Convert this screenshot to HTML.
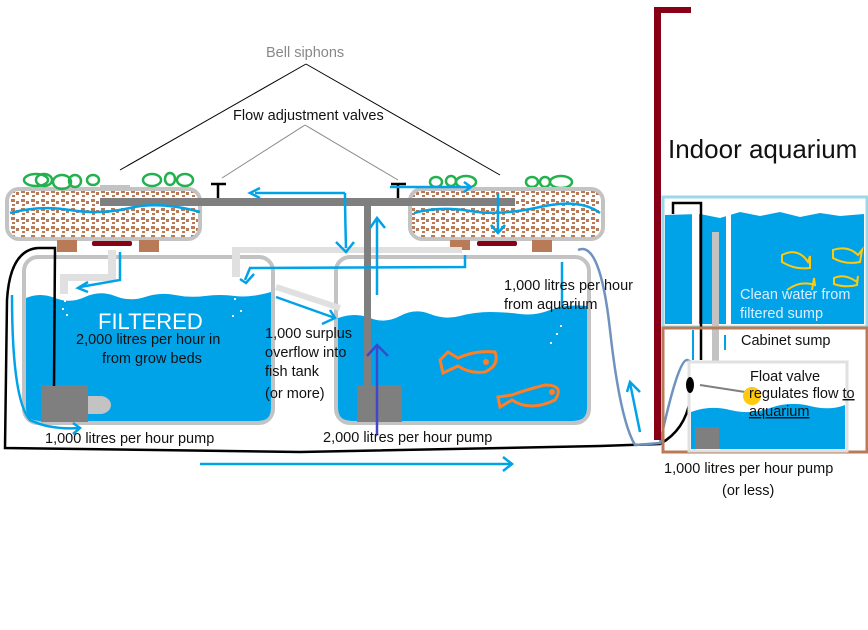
<!DOCTYPE html>
<html><head><meta charset="utf-8"><style>
html,body{margin:0;padding:0;background:#fff;width:868px;height:630px;overflow:hidden}
svg{display:block}
text{font-family:"Liberation Sans",sans-serif;font-size:14.5px;fill:#111}
</style></head><body>
<svg width="868" height="630" viewBox="0 0 868 630" xmlns="http://www.w3.org/2000/svg">
<defs>
<pattern id="peb" width="10" height="9" patternUnits="userSpaceOnUse">
<rect width="10" height="9" fill="#fff"/>
<rect x="1" y="1" width="4" height="3" fill="#b97a57"/>
<rect x="6" y="3" width="3" height="3" fill="#b97a57"/>
<rect x="2" y="6" width="3" height="2" fill="#b97a57"/>
</pattern>
</defs>
<text x="266" y="57" style="fill:#888">Bell siphons</text>
<text x="233" y="120">Flow adjustment valves</text>
<line x1="120" y1="170" x2="306" y2="64" stroke="#000"/>
<line x1="306" y1="64" x2="500" y2="175" stroke="#000"/>
<line x1="222" y1="178" x2="305" y2="125" stroke="#888"/>
<line x1="305" y1="125" x2="398" y2="180" stroke="#888"/>
<rect x="7" y="189" width="193" height="50" rx="12" fill="url(#peb)" stroke="#c3c3c3" stroke-width="4"/>
<g fill="none" stroke="#22b14c" stroke-width="2.5">
<ellipse cx="36" cy="180" rx="12" ry="6"/><ellipse cx="44" cy="180" rx="8" ry="6"/><ellipse cx="62" cy="182" rx="9" ry="7"/><ellipse cx="75" cy="181" rx="6" ry="6"/><ellipse cx="93" cy="180" rx="6" ry="5"/><ellipse cx="152" cy="180" rx="9" ry="6"/><ellipse cx="170" cy="179" rx="5" ry="6"/><ellipse cx="185" cy="180" rx="8" ry="6"/>
<ellipse cx="436" cy="182" rx="6" ry="5"/><ellipse cx="451" cy="181" rx="5" ry="5"/><ellipse cx="466" cy="182" rx="10" ry="6"/><ellipse cx="532" cy="182" rx="6" ry="5"/><ellipse cx="545" cy="182" rx="5" ry="5"/><ellipse cx="561" cy="182" rx="11" ry="6"/>
</g>
<rect x="100" y="185" width="30" height="4" fill="#c3c3c3"/>
<rect x="57" y="240" width="20" height="12" fill="#b97a57"/><rect x="139" y="240" width="20" height="12" fill="#b97a57"/>
<rect x="92" y="241" width="40" height="5" rx="2" fill="#880015"/>
<rect x="410" y="189" width="193" height="50" rx="12" fill="url(#peb)" stroke="#c3c3c3" stroke-width="4"/>
<rect x="450" y="240" width="20" height="10" fill="#b97a57"/><rect x="532" y="240" width="20" height="12" fill="#b97a57"/>
<rect x="477" y="241" width="40" height="5" rx="2" fill="#880015"/>
<rect x="24" y="257" width="249" height="166" rx="14" fill="#fff" stroke="#c3c3c3" stroke-width="4"/>
<path d="M26 298 Q40 292 55 298 T85 297 T115 296 T145 297 T175 295 T205 296 T235 296 T271 292 L271 408 Q271 421 258 421 L40 421 Q26 421 26 408Z" fill="#00a2e8"/>
<rect x="41" y="385" width="47" height="37" fill="#7f7f7f"/>
<ellipse cx="100" cy="405" rx="11" ry="9" fill="#c3c3c3"/>
<rect x="88" y="396" width="10" height="18" fill="#c3c3c3"/>
<rect x="336" y="257" width="253" height="166" rx="14" fill="#fff" stroke="#c3c3c3" stroke-width="4"/>
<path d="M338 318 Q355 312 370 318 T400 316 T430 314 T460 316 T490 312 T520 314 T550 310 T587 306 L587 408 Q587 421 573 421 L352 421 Q338 421 338 408Z" fill="#00a2e8"/>
<rect x="357" y="385" width="45" height="37" fill="#7f7f7f"/>
<g fill="none" stroke="#ff7f27" stroke-width="3">
<path d="M440 360 L448 352 L458 358 Q475 350 495 352 Q500 365 485 372 Q470 374 458 366 L443 373Z"/><circle cx="486" cy="362" r="1.5" fill="#ff7f27"/>
<path d="M498 397 L500 407 L512 400 Q530 412 555 400 Q565 385 545 385 Q525 390 512 395Z"/><circle cx="552" cy="392" r="1.5" fill="#ff7f27"/>
</g>
<rect x="232" y="247" width="230" height="6" fill="#e0e0e0"/>
<rect x="232" y="247" width="8" height="30" fill="#e0e0e0"/>
<rect x="108" y="250" width="8" height="24" fill="#e0e0e0"/>
<rect x="60" y="274" width="56" height="7" fill="#e0e0e0"/>
<rect x="60" y="274" width="8" height="20" fill="#e0e0e0"/>
<line x1="276" y1="287" x2="340" y2="308" stroke="#e0e0e0" stroke-width="6"/>
<rect x="100" y="198" width="415" height="8" fill="#7f7f7f"/>
<rect x="364" y="204" width="7" height="182" fill="#7f7f7f"/>
<g stroke="#000" stroke-width="2.5"><line x1="211" y1="184" x2="226" y2="184"/><line x1="218" y1="184" x2="218" y2="198"/><line x1="391" y1="184" x2="406" y2="184"/><line x1="398" y1="184" x2="398" y2="198"/></g>
<g fill="none" stroke="#00a2e8" stroke-width="2.5">
<path d="M10 213 Q40 205 70 210 T130 208 T200 212"/>
<path d="M414 213 Q440 206 470 211 T540 207 T600 213"/>
<path d="M345 193 Q345 210 346 248"/><path d="M336 242 L346 252 L354 242"/>
<path d="M120 252 L120 280 L80 287"/><path d="M88 282 L78 288 L88 292"/>
<path d="M245 280 L250 268 L465 267 L465 255"/><path d="M240 279 L246 283 L254 274"/>
<line x1="276" y1="297" x2="335" y2="318"/><path d="M330 310 L335 318 L322 324"/>
<line x1="377" y1="295" x2="377" y2="220"/><path d="M370 228 L377 218 L385 228"/>
<line x1="345" y1="193" x2="255" y2="193"/><path d="M260 188 L250 193 L260 198"/>
<line x1="390" y1="187" x2="470" y2="187"/><path d="M464 182 L471 187 L464 192"/>
<line x1="498" y1="193" x2="498" y2="232"/><path d="M491 225 L498 233 L505 225"/>
<path d="M12 295 Q12 400 30 420 Q50 430 80 428"/><path d="M73 423 L80 428 L73 434"/>
<line x1="200" y1="464" x2="512" y2="464"/><path d="M503 457 L512 464 L503 471"/>
<line x1="562" y1="262" x2="562" y2="320"/>
<line x1="640" y1="432" x2="630" y2="383"/><path d="M627 392 L630 382 L640 392"/>
</g>
<line x1="377" y1="435" x2="377" y2="345" stroke="#3f48cc" stroke-width="2.5"/>
<path d="M367 356 L377 345 L388 356" fill="none" stroke="#3f48cc" stroke-width="2.5"/>
<g fill="#fff"><rect x="64" y="300" width="2" height="2"/><rect x="62" y="308" width="2" height="2"/><rect x="66" y="314" width="2" height="2"/><rect x="238" y="290" width="2" height="2"/><rect x="234" y="298" width="2" height="2"/><rect x="240" y="310" width="2" height="2"/><rect x="232" y="315" width="2" height="2"/><rect x="560" y="325" width="2" height="2"/><rect x="556" y="333" width="2" height="2"/><rect x="550" y="342" width="2" height="2"/></g>
<path d="M38 248 L55 248 L54 386" fill="none" stroke="#000" stroke-width="2.5"/>
<path d="M38 248 Q10 250 7 300 L5 448 L300 452 L600 446 L660 444 Q685 430 690 400" fill="none" stroke="#000" stroke-width="2.5"/>
<path d="M578 250 Q600 240 610 330 Q620 420 635 445 L660 443 Q678 360 687 360 Q705 365 705 430" fill="none" stroke="#7092be" stroke-width="2.5"/>
<rect x="654" y="8" width="7" height="432" fill="#880015"/>
<rect x="654" y="7" width="37" height="6" fill="#880015"/>
<text x="668" y="158" style="font-size:26px">Indoor aquarium</text>
<rect x="663" y="197" width="204" height="130" fill="#fff" stroke="#99d9ea" stroke-width="3"/>
<path d="M665 215 L700 214 L720 218 L740 212 L760 216 L780 212 L800 217 L820 213 L840 216 L864 214 L864 324 L665 324Z" fill="#00a2e8"/>
<rect x="692" y="214" width="7" height="110" fill="#fff"/>
<rect x="726" y="214" width="5" height="110" fill="#fff"/>
<rect x="712" y="232" width="7" height="150" fill="#c3c3c3"/>
<path d="M673 214 L673 203 L701 203 L701 360" fill="none" stroke="#000" stroke-width="2.5"/>
<g fill="none" stroke="#ffc90e" stroke-width="2"><path d="M782 255 Q795 248 805 258 L808 262 L810 256 L810 268 Q795 270 782 262Z"/><path d="M833 250 Q848 245 858 255 L862 250 L860 262 Q845 265 833 258Z"/><path d="M787 290 Q800 280 815 285 L814 278 L812 290"/><path d="M834 278 Q845 273 857 282 L858 276 L857 285 Q845 288 834 284Z"/></g>
<text x="740" y="299" style="fill:#ddeeff">Clean water from</text>
<text x="740" y="318" style="fill:#ddeeff">filtered sump</text>
<rect x="663" y="328" width="204" height="124" fill="none" stroke="#b97a57" stroke-width="3"/>
<text x="741" y="345">Cabinet sump</text>
<rect x="689" y="362" width="158" height="89" fill="#fff" stroke="#e0e0e0" stroke-width="3"/>
<path d="M691 412 Q710 405 730 410 T770 408 T810 406 T845 405 L845 449 L691 449Z" fill="#00a2e8"/>
<rect x="695" y="427" width="24" height="22" fill="#7f7f7f"/>
<line x1="700" y1="385" x2="745" y2="392" stroke="#7f7f7f" stroke-width="2"/>
<circle cx="752" cy="396" r="9" fill="#ffc90e"/>
<ellipse cx="690" cy="385" rx="4" ry="8" fill="#000"/>
<line x1="693" y1="330" x2="693" y2="360" stroke="#00a2e8" stroke-width="2"/>
<line x1="725" y1="335" x2="725" y2="350" stroke="#00a2e8" stroke-width="2"/>
<text x="750" y="381">Float valve</text>
<text x="749" y="398">regulates flow <tspan text-decoration="underline">to</tspan></text>
<text x="749" y="416" text-decoration="underline">aquarium</text>
<text x="98" y="329" style="fill:#fff;font-size:22px">FILTERED</text>
<text x="76" y="344">2,000 litres per hour in</text>
<text x="102" y="363">from grow beds</text>
<text x="265" y="338">1,000 surplus</text>
<text x="265" y="357">overflow into</text>
<text x="265" y="376">fish tank</text>
<text x="265" y="398">(or more)</text>
<text x="45" y="443">1,000 litres per hour pump</text>
<text x="323" y="442">2,000 litres per hour pump</text>
<text x="504" y="290">1,000 litres per hour</text>
<text x="504" y="309">from aquarium</text>
<text x="664" y="473">1,000 litres per hour pump</text>
<text x="722" y="495">(or less)</text>
</svg>
</body></html>
